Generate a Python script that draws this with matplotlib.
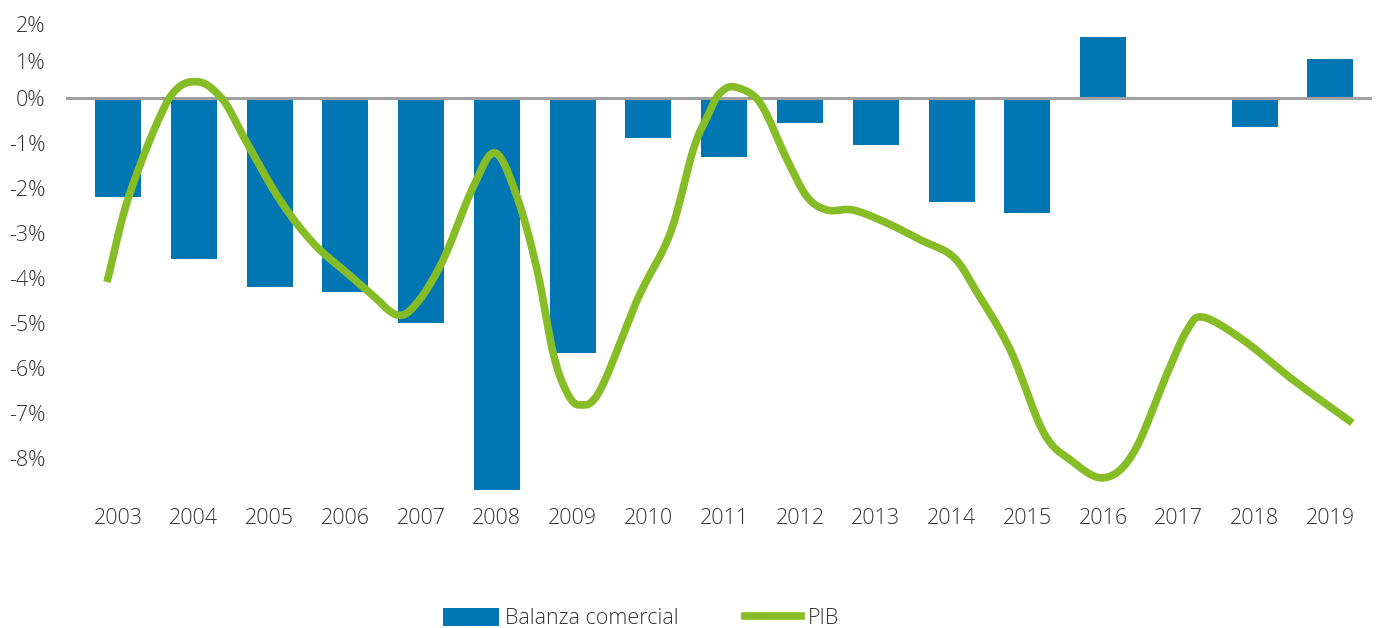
import numpy as np
import matplotlib
matplotlib.use("Agg")
import matplotlib.pyplot as plt
from matplotlib.patches import Patch
from matplotlib.lines import Line2D

plt.rcParams['font.family'] = ['Open Sans', 'DejaVu Sans']
plt.rcParams['font.weight'] = 'light'

years = ['2003', '2004', '2005', '2006', '2007', '2008', '2009', '2010', '2011',
         '2012', '2013', '2014', '2015', '2016', '2017', '2018', '2019']
balanza = [-2.19, -3.57, -4.18, -4.29, -4.98, -8.70, -5.66, -0.87, -1.29,
           -0.54, -1.03, -2.29, -2.54, 1.67, 0.05, -0.63, 1.07]

# PIB curve: position (in category units from 2003) and value (%)
pib_x = [-0.145, 0.158, 0.686, 1.056, 1.386, 1.703, 2.139, 2.574, 3.023, 3.327,
         3.683, 3.947, 4.290, 4.686, 4.977, 5.267, 5.531, 5.743, 5.927, 6.099,
         6.363, 6.865, 7.287, 7.591, 7.776, 7.947, 8.145, 8.475, 8.832, 9.096,
         9.360, 9.703, 10.152, 10.587, 11.023, 11.340, 11.776, 12.211, 12.568,
         13.003, 13.399, 13.848, 14.112, 14.323, 14.851, 15.512, 16.290]
pib_v = [-4.08, -2.10, 0.04, 0.45, -0.03, -0.99, -2.26, -3.21, -3.88, -4.32,
         -4.81, -4.54, -3.59, -1.97, -1.21, -2.19, -3.81, -5.66, -6.54, -6.81,
         -6.48, -4.43, -3.00, -1.14, -0.41, 0.15, 0.31, -0.10, -1.37, -2.19,
         -2.48, -2.48, -2.77, -3.14, -3.52, -4.32, -5.59, -7.41, -8.03,
         -8.43, -7.88, -6.10, -5.14, -4.86, -5.37, -6.26, -7.21]

yticks = [2, 1, 0, -1, -2, -3, -4, -5, -6, -7, -8]

BAR_COLOR = '#0076B2'
LINE_COLOR = '#86BC25'
TEXT_COLOR = '#333333'


def catmull_rom(xs, ys, n=20):
    xs = np.asarray(xs, float)
    ys = np.asarray(ys, float)
    px = np.concatenate([[2 * xs[0] - xs[1]], xs, [2 * xs[-1] - xs[-2]]])
    py = np.concatenate([[2 * ys[0] - ys[1]], ys, [2 * ys[-1] - ys[-2]]])
    outx, outy = [], []
    t = np.linspace(0, 1, n, endpoint=False)
    for i in range(1, len(px) - 2):
        p0x, p1x, p2x, p3x = px[i - 1:i + 3]
        p0y, p1y, p2y, p3y = py[i - 1:i + 3]
        for a, b, c, d, out in ((p0x, p1x, p2x, p3x, outx), (p0y, p1y, p2y, p3y, outy)):
            out.extend(0.5 * ((2 * b) + (-a + c) * t + (2 * a - 5 * b + 4 * c - d) * t ** 2
                              + (-a + 3 * b - 3 * c + d) * t ** 3))
    outx.append(xs[-1])
    outy.append(ys[-1])
    return np.array(outx), np.array(outy)


POS = 37.0 / 45.0


def fwd(v):
    v = np.asarray(v, float)
    return np.where(v > 0, v * POS, v)


def inv(v):
    v = np.asarray(v, float)
    return np.where(v > 0, v / POS, v)


fig = plt.figure(figsize=(13.78, 6.28), dpi=100)
ax = fig.add_axes([0.0479, 0.2126, 0.9478, 0.7543])
ax.set_yscale('function', functions=(fwd, inv))

x = np.arange(len(years))
ax.bar(x, balanza, width=0.607, color=BAR_COLOR, zorder=2)
ax.axhline(0, color='#A0A0A2', lw=2.2, zorder=2.5)

sx, sy = catmull_rom(pib_x, pib_v)
ax.plot(sx, sy, color=LINE_COLOR, lw=5.5, zorder=3, solid_capstyle='butt')

ax.set_xlim(-0.686, 16.55)
ax.set_ylim(-8.8, 2.1)
ax.set_xticks(x)
ax.set_xticklabels(years)
ax.set_yticks(yticks)
ax.set_yticklabels([f'{t}%' for t in yticks])
ax.tick_params(axis='both', length=0, labelsize=15.5, colors=TEXT_COLOR)
ax.tick_params(axis='y', pad=15)
ax.tick_params(axis='x', pad=10)
for s in ax.spines.values():
    s.set_visible(False)
ax.yaxis.set_minor_locator(matplotlib.ticker.NullLocator())

handles = [Patch(facecolor=BAR_COLOR, edgecolor='none', label='Balanza comercial'),
           Line2D([0], [0], color=LINE_COLOR, lw=5.5, label='PIB')]
fig.legend(handles=handles, loc='center', bbox_to_anchor=(0.465, 0.0145), ncol=2,
           frameon=False, fontsize=15.5, handlelength=2.6, handleheight=0.85,
           handletextpad=0.3, columnspacing=3.1, labelcolor=TEXT_COLOR)

fig.savefig('out.png', dpi=100)
